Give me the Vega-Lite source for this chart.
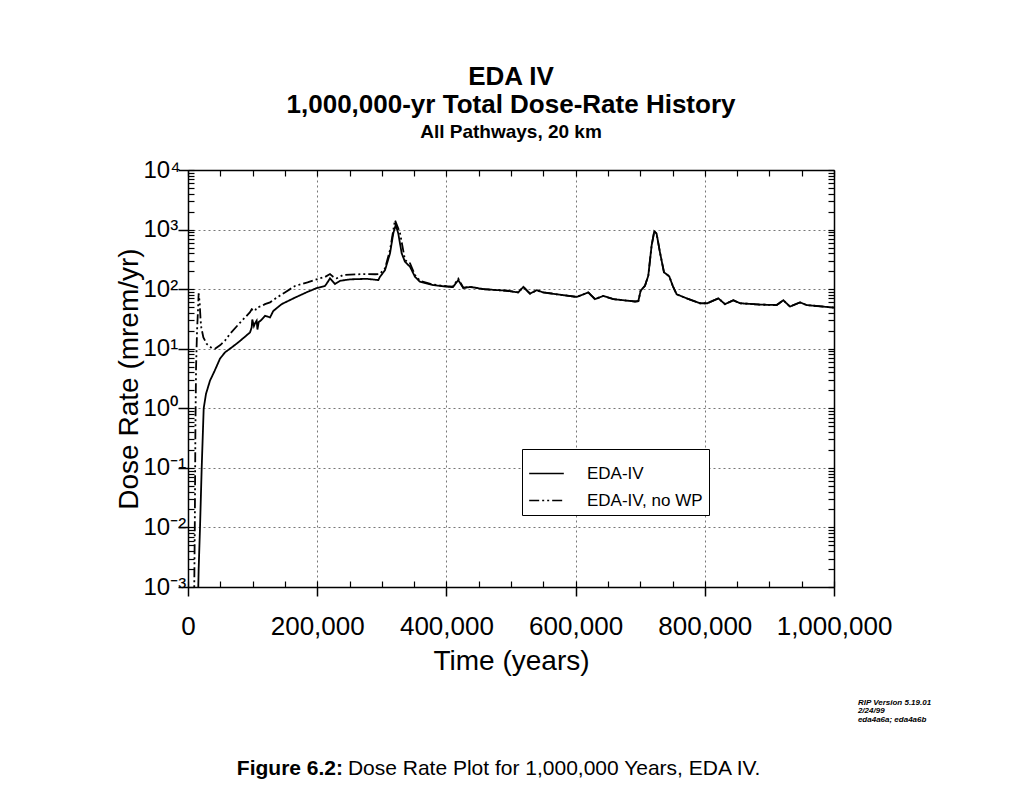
{
  "$schema": "https://vega.github.io/schema/vega-lite/v6.json",
  "autosize": "none",
  "width": 646,
  "height": 417,
  "padding": {"left": 188, "top": 170, "right": 180, "bottom": 224},
  "background": "white",
  "config": {
    "font": "Liberation Sans",
    "view": {"stroke": null},
    "axis": {"domainColor": "black", "tickColor": "black", "labelColor": "black", "titleColor": "black"}
  },
  "title": {
    "text": ["EDA IV", "1,000,000-yr Total Dose-Rate History"],
    "subtitle": "All Pathways, 20 km",
    "fontSize": 26,
    "fontWeight": "bold",
    "lineHeight": 28,
    "subtitleFontSize": 19,
    "subtitleFontWeight": "bold",
    "subtitlePadding": 5,
    "subtitleColor": "black",
    "color": "black",
    "anchor": "middle",
    "offset": 16
  },
  "data": {
    "values": [
      {"t": 15500, "dose": 0.0006, "series": "EDA-IV"},
      {"t": 16500, "dose": 0.002, "series": "EDA-IV"},
      {"t": 18600, "dose": 0.01, "series": "EDA-IV"},
      {"t": 21200, "dose": 0.1, "series": "EDA-IV"},
      {"t": 24300, "dose": 1.0, "series": "EDA-IV"},
      {"t": 27900, "dose": 1.75, "series": "EDA-IV"},
      {"t": 34000, "dose": 2.9, "series": "EDA-IV"},
      {"t": 41000, "dose": 4.2, "series": "EDA-IV"},
      {"t": 49500, "dose": 6.8, "series": "EDA-IV"},
      {"t": 57300, "dose": 8.7, "series": "EDA-IV"},
      {"t": 67600, "dose": 10.5, "series": "EDA-IV"},
      {"t": 77900, "dose": 12.8, "series": "EDA-IV"},
      {"t": 90000, "dose": 16.5, "series": "EDA-IV"},
      {"t": 96000, "dose": 18.8, "series": "EDA-IV"},
      {"t": 98600, "dose": 22.8, "series": "EDA-IV"},
      {"t": 99500, "dose": 31, "series": "EDA-IV"},
      {"t": 102000, "dose": 24, "series": "EDA-IV"},
      {"t": 104000, "dose": 27, "series": "EDA-IV"},
      {"t": 106300, "dose": 29.5, "series": "EDA-IV"},
      {"t": 107500, "dose": 21, "series": "EDA-IV"},
      {"t": 109500, "dose": 28, "series": "EDA-IV"},
      {"t": 113000, "dose": 30, "series": "EDA-IV"},
      {"t": 119300, "dose": 35.7, "series": "EDA-IV"},
      {"t": 127000, "dose": 33.5, "series": "EDA-IV"},
      {"t": 132000, "dose": 43, "series": "EDA-IV"},
      {"t": 145000, "dose": 56, "series": "EDA-IV"},
      {"t": 165600, "dose": 72, "series": "EDA-IV"},
      {"t": 185000, "dose": 90, "series": "EDA-IV"},
      {"t": 200000, "dose": 105, "series": "EDA-IV"},
      {"t": 212000, "dose": 113, "series": "EDA-IV"},
      {"t": 216000, "dose": 130, "series": "EDA-IV"},
      {"t": 219800, "dose": 152, "series": "EDA-IV"},
      {"t": 224000, "dose": 135, "series": "EDA-IV"},
      {"t": 227600, "dose": 122, "series": "EDA-IV"},
      {"t": 235300, "dose": 138, "series": "EDA-IV"},
      {"t": 250800, "dose": 146, "series": "EDA-IV"},
      {"t": 276600, "dose": 149, "series": "EDA-IV"},
      {"t": 294600, "dose": 142, "series": "EDA-IV"},
      {"t": 297200, "dose": 161, "series": "EDA-IV"},
      {"t": 305000, "dose": 209, "series": "EDA-IV"},
      {"t": 312700, "dose": 398, "series": "EDA-IV"},
      {"t": 317800, "dose": 863, "series": "EDA-IV"},
      {"t": 321500, "dose": 1190, "series": "EDA-IV"},
      {"t": 325500, "dose": 863, "series": "EDA-IV"},
      {"t": 330800, "dose": 398, "series": "EDA-IV"},
      {"t": 335900, "dose": 288, "series": "EDA-IV"},
      {"t": 343700, "dose": 238, "series": "EDA-IV"},
      {"t": 351400, "dose": 161, "series": "EDA-IV"},
      {"t": 359100, "dose": 133, "series": "EDA-IV"},
      {"t": 379700, "dose": 117, "series": "EDA-IV"},
      {"t": 400500, "dose": 110, "series": "EDA-IV"},
      {"t": 410000, "dose": 108, "series": "EDA-IV"},
      {"t": 418400, "dose": 142, "series": "EDA-IV"},
      {"t": 426200, "dose": 104, "series": "EDA-IV"},
      {"t": 436500, "dose": 109, "series": "EDA-IV"},
      {"t": 444300, "dose": 106, "series": "EDA-IV"},
      {"t": 457100, "dose": 100, "series": "EDA-IV"},
      {"t": 493300, "dose": 94, "series": "EDA-IV"},
      {"t": 511300, "dose": 88, "series": "EDA-IV"},
      {"t": 519000, "dose": 109, "series": "EDA-IV"},
      {"t": 529400, "dose": 84, "series": "EDA-IV"},
      {"t": 539800, "dose": 96, "series": "EDA-IV"},
      {"t": 550000, "dose": 88, "series": "EDA-IV"},
      {"t": 570700, "dose": 82, "series": "EDA-IV"},
      {"t": 601700, "dose": 74, "series": "EDA-IV"},
      {"t": 619700, "dose": 88, "series": "EDA-IV"},
      {"t": 630000, "dose": 68, "series": "EDA-IV"},
      {"t": 642900, "dose": 77, "series": "EDA-IV"},
      {"t": 658400, "dose": 68, "series": "EDA-IV"},
      {"t": 691900, "dose": 62, "series": "EDA-IV"},
      {"t": 697100, "dose": 63, "series": "EDA-IV"},
      {"t": 700700, "dose": 94, "series": "EDA-IV"},
      {"t": 707400, "dose": 114, "series": "EDA-IV"},
      {"t": 712500, "dose": 168, "series": "EDA-IV"},
      {"t": 717700, "dose": 542, "series": "EDA-IV"},
      {"t": 721800, "dose": 936, "series": "EDA-IV"},
      {"t": 725400, "dose": 855, "series": "EDA-IV"},
      {"t": 730500, "dose": 419, "series": "EDA-IV"},
      {"t": 736800, "dose": 192, "series": "EDA-IV"},
      {"t": 745000, "dose": 164, "series": "EDA-IV"},
      {"t": 750300, "dose": 114, "series": "EDA-IV"},
      {"t": 756400, "dose": 82, "series": "EDA-IV"},
      {"t": 772000, "dose": 70, "series": "EDA-IV"},
      {"t": 792600, "dose": 58, "series": "EDA-IV"},
      {"t": 803900, "dose": 58, "series": "EDA-IV"},
      {"t": 821000, "dose": 70, "series": "EDA-IV"},
      {"t": 831300, "dose": 56, "series": "EDA-IV"},
      {"t": 844100, "dose": 65, "series": "EDA-IV"},
      {"t": 854500, "dose": 58, "series": "EDA-IV"},
      {"t": 885400, "dose": 55, "series": "EDA-IV"},
      {"t": 911300, "dose": 54, "series": "EDA-IV"},
      {"t": 921500, "dose": 65, "series": "EDA-IV"},
      {"t": 931900, "dose": 51, "series": "EDA-IV"},
      {"t": 947400, "dose": 60, "series": "EDA-IV"},
      {"t": 957700, "dose": 54, "series": "EDA-IV"},
      {"t": 1000000, "dose": 49, "series": "EDA-IV"},

      {"t": 9500, "dose": 0.0006, "series": "EDA-IV, no WP"},
      {"t": 10500, "dose": 0.01, "series": "EDA-IV, no WP"},
      {"t": 11500, "dose": 0.5, "series": "EDA-IV, no WP"},
      {"t": 12500, "dose": 5, "series": "EDA-IV, no WP"},
      {"t": 14000, "dose": 20, "series": "EDA-IV, no WP"},
      {"t": 15500, "dose": 45, "series": "EDA-IV, no WP"},
      {"t": 16500, "dose": 85, "series": "EDA-IV, no WP"},
      {"t": 18000, "dose": 60, "series": "EDA-IV, no WP"},
      {"t": 19500, "dose": 30, "series": "EDA-IV, no WP"},
      {"t": 20500, "dose": 23, "series": "EDA-IV, no WP"},
      {"t": 23800, "dose": 15.5, "series": "EDA-IV, no WP"},
      {"t": 29000, "dose": 12, "series": "EDA-IV, no WP"},
      {"t": 36600, "dose": 10.3, "series": "EDA-IV, no WP"},
      {"t": 41800, "dose": 10, "series": "EDA-IV, no WP"},
      {"t": 50000, "dose": 11.5, "series": "EDA-IV, no WP"},
      {"t": 57300, "dose": 13.7, "series": "EDA-IV, no WP"},
      {"t": 65000, "dose": 17.7, "series": "EDA-IV, no WP"},
      {"t": 80000, "dose": 27, "series": "EDA-IV, no WP"},
      {"t": 96000, "dose": 41, "series": "EDA-IV, no WP"},
      {"t": 98600, "dose": 46, "series": "EDA-IV, no WP"},
      {"t": 103700, "dose": 43, "series": "EDA-IV, no WP"},
      {"t": 106300, "dose": 49, "series": "EDA-IV, no WP"},
      {"t": 114100, "dose": 52, "series": "EDA-IV, no WP"},
      {"t": 119200, "dose": 56, "series": "EDA-IV, no WP"},
      {"t": 127000, "dose": 60, "series": "EDA-IV, no WP"},
      {"t": 137300, "dose": 72, "series": "EDA-IV, no WP"},
      {"t": 150000, "dose": 88, "series": "EDA-IV, no WP"},
      {"t": 165600, "dose": 113, "series": "EDA-IV, no WP"},
      {"t": 185000, "dose": 130, "series": "EDA-IV, no WP"},
      {"t": 204300, "dose": 152, "series": "EDA-IV, no WP"},
      {"t": 212000, "dose": 160, "series": "EDA-IV, no WP"},
      {"t": 219800, "dose": 179, "series": "EDA-IV, no WP"},
      {"t": 225000, "dose": 160, "series": "EDA-IV, no WP"},
      {"t": 230200, "dose": 152, "series": "EDA-IV, no WP"},
      {"t": 240400, "dose": 173, "series": "EDA-IV, no WP"},
      {"t": 271400, "dose": 179, "series": "EDA-IV, no WP"},
      {"t": 290000, "dose": 178, "series": "EDA-IV, no WP"},
      {"t": 297000, "dose": 180, "series": "EDA-IV, no WP"},
      {"t": 305000, "dose": 223, "series": "EDA-IV, no WP"},
      {"t": 312700, "dose": 453, "series": "EDA-IV, no WP"},
      {"t": 320400, "dose": 1440, "series": "EDA-IV, no WP"},
      {"t": 328200, "dose": 873, "series": "EDA-IV, no WP"},
      {"t": 335900, "dose": 308, "series": "EDA-IV, no WP"},
      {"t": 343700, "dose": 272, "series": "EDA-IV, no WP"},
      {"t": 351400, "dose": 172, "series": "EDA-IV, no WP"},
      {"t": 359100, "dose": 138, "series": "EDA-IV, no WP"},
      {"t": 379700, "dose": 119, "series": "EDA-IV, no WP"},
      {"t": 400500, "dose": 112, "series": "EDA-IV, no WP"},
      {"t": 410000, "dose": 110, "series": "EDA-IV, no WP"},
      {"t": 418400, "dose": 150, "series": "EDA-IV, no WP"},
      {"t": 426200, "dose": 106, "series": "EDA-IV, no WP"},
      {"t": 436500, "dose": 109, "series": "EDA-IV, no WP"},
      {"t": 444300, "dose": 106, "series": "EDA-IV, no WP"},
      {"t": 457100, "dose": 100, "series": "EDA-IV, no WP"},
      {"t": 493300, "dose": 94, "series": "EDA-IV, no WP"},
      {"t": 511300, "dose": 88, "series": "EDA-IV, no WP"},
      {"t": 519000, "dose": 109, "series": "EDA-IV, no WP"},
      {"t": 529400, "dose": 84, "series": "EDA-IV, no WP"},
      {"t": 539800, "dose": 96, "series": "EDA-IV, no WP"},
      {"t": 550000, "dose": 88, "series": "EDA-IV, no WP"},
      {"t": 570700, "dose": 82, "series": "EDA-IV, no WP"},
      {"t": 601700, "dose": 74, "series": "EDA-IV, no WP"},
      {"t": 619700, "dose": 88, "series": "EDA-IV, no WP"},
      {"t": 630000, "dose": 68, "series": "EDA-IV, no WP"},
      {"t": 642900, "dose": 77, "series": "EDA-IV, no WP"},
      {"t": 658400, "dose": 68, "series": "EDA-IV, no WP"},
      {"t": 691900, "dose": 62, "series": "EDA-IV, no WP"},
      {"t": 697100, "dose": 63, "series": "EDA-IV, no WP"},
      {"t": 700700, "dose": 94, "series": "EDA-IV, no WP"},
      {"t": 707400, "dose": 114, "series": "EDA-IV, no WP"},
      {"t": 712500, "dose": 168, "series": "EDA-IV, no WP"},
      {"t": 717700, "dose": 542, "series": "EDA-IV, no WP"},
      {"t": 721800, "dose": 936, "series": "EDA-IV, no WP"},
      {"t": 725400, "dose": 855, "series": "EDA-IV, no WP"},
      {"t": 730500, "dose": 419, "series": "EDA-IV, no WP"},
      {"t": 736800, "dose": 192, "series": "EDA-IV, no WP"},
      {"t": 745000, "dose": 164, "series": "EDA-IV, no WP"},
      {"t": 750300, "dose": 114, "series": "EDA-IV, no WP"},
      {"t": 756400, "dose": 82, "series": "EDA-IV, no WP"},
      {"t": 772000, "dose": 70, "series": "EDA-IV, no WP"},
      {"t": 792600, "dose": 58, "series": "EDA-IV, no WP"},
      {"t": 803900, "dose": 58, "series": "EDA-IV, no WP"},
      {"t": 821000, "dose": 70, "series": "EDA-IV, no WP"},
      {"t": 831300, "dose": 56, "series": "EDA-IV, no WP"},
      {"t": 844100, "dose": 65, "series": "EDA-IV, no WP"},
      {"t": 854500, "dose": 58, "series": "EDA-IV, no WP"},
      {"t": 885400, "dose": 55, "series": "EDA-IV, no WP"},
      {"t": 911300, "dose": 54, "series": "EDA-IV, no WP"},
      {"t": 921500, "dose": 65, "series": "EDA-IV, no WP"},
      {"t": 931900, "dose": 51, "series": "EDA-IV, no WP"},
      {"t": 947400, "dose": 60, "series": "EDA-IV, no WP"},
      {"t": 957700, "dose": 54, "series": "EDA-IV, no WP"},
      {"t": 1000000, "dose": 49, "series": "EDA-IV, no WP"}
    ]
  },
  "resolve": {"axis": {"x": "independent", "y": "independent"}},
  "layer": [
    {
      "mark": {"type": "line", "clip": true, "color": "black", "strokeWidth": 1.8},
      "encoding": {
        "x": {
          "field": "t", "type": "quantitative",
          "scale": {"domain": [0, 1000000], "nice": false, "zero": false},
          "axis": {
            "orient": "bottom",
            "values": [0, 200000, 400000, 600000, 800000, 1000000],
            "format": ",.0f",
            "labelFontSize": 26,
            "labelPadding": 17,
            "labelFlush": false,
            "labelOverlap": false,
            "tickSize": 9,
            "tickWidth": 1.5,
            "domain": true,
            "domainWidth": 1.5,
            "grid": true,
            "gridDash": [2, 3],
            "gridColor": "#777",
            "gridWidth": 1,
            "title": "Time (years)",
            "titleFontSize": 28,
            "titleFontWeight": "normal",
            "titlePadding": 8
          }
        },
        "y": {
          "field": "dose", "type": "quantitative",
          "scale": {"type": "log", "domain": [0.001, 10000], "nice": false},
          "axis": {
            "orient": "left",
            "values": [0.001, 0.01, 0.1, 1, 10, 100, 1000, 10000],
            "labelExpr": "datum.value >= 9999 ? '10⁴' : datum.value >= 999 ? '10³' : datum.value >= 99 ? '10²' : datum.value >= 9 ? '10¹' : datum.value >= 0.9 ? '10⁰' : datum.value >= 0.09 ? '10⁻¹' : datum.value >= 0.009 ? '10⁻²' : '10⁻³'",
            "labelFontSize": 24,
            "labelAlign": "left",
            "labelPadding": 35,
            "tickSize": 10,
            "tickWidth": 1.5,
            "domain": true,
            "domainWidth": 1.5,
            "grid": true,
            "gridDash": [2, 3],
            "gridColor": "#777",
            "gridWidth": 1,
            "title": "Dose Rate (mrem/yr)",
            "titleFontSize": 28,
            "titleFontWeight": "normal",
            "titlePadding": 0
          }
        },
        "strokeDash": {
          "field": "series", "type": "nominal",
          "scale": {"domain": ["EDA-IV", "EDA-IV, no WP"], "range": [[1, 0], [10, 3, 2, 3, 2, 3]]},
          "legend": {
            "orient": "none",
            "legendX": 334,
            "legendY": 279,
            "title": null,
            "strokeColor": "black",
            "fillColor": "white",
            "padding": 6,
            "symbolType": "stroke",
            "symbolSize": 1200,
            "symbolStrokeWidth": 1.5,
            "symbolStrokeColor": "black",
            "labelFontSize": 17,
            "labelColor": "black",
            "labelOffset": 22,
            "rowPadding": -2
          }
        }
      }
    },
    {
      "mark": {"type": "line", "opacity": 0},
      "encoding": {
        "x": {
          "field": "t", "type": "quantitative",
          "axis": {
            "orient": "bottom",
            "values": [0, 50000, 100000, 150000, 200000, 250000, 300000, 350000, 400000, 450000, 500000, 550000, 600000, 650000, 700000, 750000, 800000, 850000, 900000, 950000, 1000000],
            "labels": false, "domain": false, "grid": false, "title": null,
            "tickSize": -6, "tickWidth": 1.2
          }
        },
        "y": {
          "field": "dose", "type": "quantitative",
          "axis": {
            "orient": "left",
            "values": [0.001, 0.002, 0.003, 0.004, 0.005, 0.006, 0.007, 0.008, 0.009, 0.01, 0.02, 0.03, 0.04, 0.05, 0.06, 0.07, 0.08, 0.09, 0.1, 0.2, 0.3, 0.4, 0.5, 0.6, 0.7, 0.8, 0.9, 1, 2, 3, 4, 5, 6, 7, 8, 9, 10, 20, 30, 40, 50, 60, 70, 80, 90, 100, 200, 300, 400, 500, 600, 700, 800, 900, 1000, 2000, 3000, 4000, 5000, 6000, 7000, 8000, 9000, 10000],
            "labels": false, "domain": false, "grid": false, "title": null,
            "tickSize": -6, "tickWidth": 1.2
          }
        }
      }
    },
    {
      "mark": {"type": "line", "opacity": 0},
      "encoding": {
        "x": {
          "field": "t", "type": "quantitative",
          "axis": {
            "orient": "top",
            "values": [0, 50000, 100000, 150000, 200000, 250000, 300000, 350000, 400000, 450000, 500000, 550000, 600000, 650000, 700000, 750000, 800000, 850000, 900000, 950000, 1000000],
            "labels": false, "domain": true, "domainWidth": 1.5, "grid": false, "title": null,
            "tickSize": -6, "tickWidth": 1.2
          }
        },
        "y": {
          "field": "dose", "type": "quantitative",
          "axis": {
            "orient": "right",
            "values": [0.001, 0.002, 0.003, 0.004, 0.005, 0.006, 0.007, 0.008, 0.009, 0.01, 0.02, 0.03, 0.04, 0.05, 0.06, 0.07, 0.08, 0.09, 0.1, 0.2, 0.3, 0.4, 0.5, 0.6, 0.7, 0.8, 0.9, 1, 2, 3, 4, 5, 6, 7, 8, 9, 10, 20, 30, 40, 50, 60, 70, 80, 90, 100, 200, 300, 400, 500, 600, 700, 800, 900, 1000, 2000, 3000, 4000, 5000, 6000, 7000, 8000, 9000, 10000],
            "labels": false, "domain": true, "domainWidth": 1.5, "grid": false, "title": null,
            "tickSize": -6, "tickWidth": 1.2
          }
        }
      }
    },
    {
      "data": {"values": [{"label": "Figure 6.2:"}]},
      "mark": {"type": "text", "align": "right", "baseline": "middle", "fontSize": 21, "fontWeight": "bold", "color": "black"},
      "encoding": {
        "x": {"datum": 240000, "type": "quantitative", "axis": null},
        "y": {"datum": 0.00000089, "type": "quantitative", "axis": null},
        "text": {"field": "label"}
      }
    },
    {
      "data": {"values": [{"label": "Dose Rate Plot for 1,000,000 Years, EDA IV."}]},
      "mark": {"type": "text", "align": "left", "baseline": "middle", "fontSize": 21, "color": "black"},
      "encoding": {
        "x": {"datum": 247500, "type": "quantitative", "axis": null},
        "y": {"datum": 0.00000089, "type": "quantitative", "axis": null},
        "text": {"field": "label"}
      }
    },
    {
      "data": {"values": [{"label": "RIP Version 5.19.01\n2/24/99\neda4a6a; eda4a6b"}]},
      "mark": {"type": "text", "align": "left", "baseline": "top", "fontSize": 8, "fontWeight": "bold", "fontStyle": "italic", "lineBreak": "\n", "lineHeight": 8.5, "color": "black"},
      "encoding": {
        "x": {"datum": 1037000, "type": "quantitative", "axis": null},
        "y": {"datum": 0.0000132, "type": "quantitative", "axis": null},
        "text": {"field": "label"}
      }
    }
  ]
}
